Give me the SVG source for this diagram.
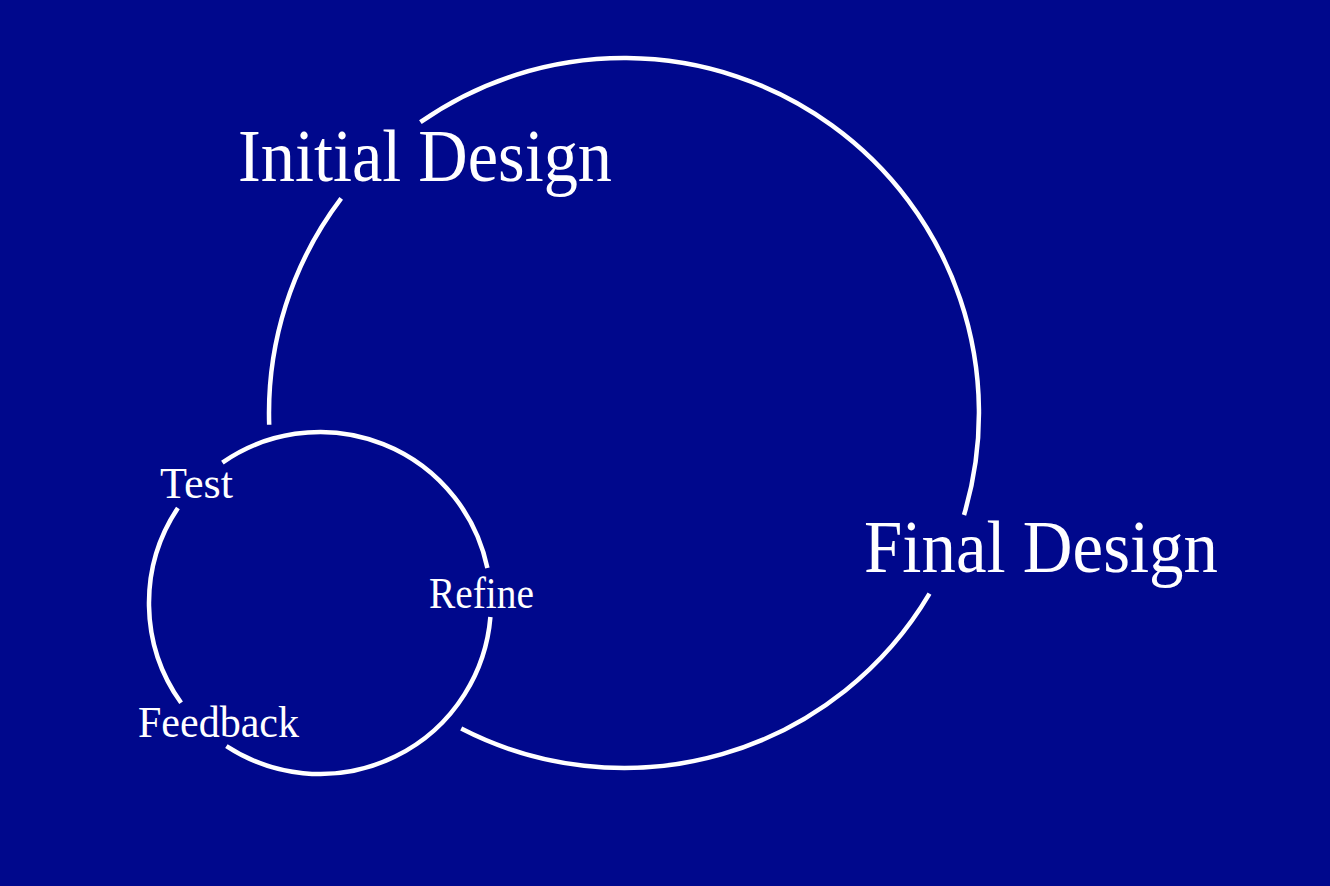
<svg xmlns="http://www.w3.org/2000/svg" width="1330" height="886" viewBox="0 0 1330 886">
  <style>
    .arc { fill: none; stroke: #ffffff; stroke-width: 4.5; stroke-linecap: butt; }
    .big { font-family: "Liberation Serif", "DejaVu Serif", serif; font-size: 74px; fill: #ffffff; }
    .small { font-family: "Liberation Serif", "DejaVu Serif", serif; font-size: 45px; fill: #ffffff; }
  </style>
  <rect x="0" y="0" width="1330" height="886" fill="#00088c"/>
  <g id="connectors">
    <g id="outer-loop">
      <path class="arc" d="M964,515 A355,355 0 0 0 420.4,122.2"/>
      <path class="arc" d="M341.2,198.4 A355,355 0 0 0 269.2,424.8"/>
      <path class="arc" d="M461.2,728.5 A355,355 0 0 0 929.5,593.7"/>
    </g>
    <g id="inner-loop">
      <path class="arc" d="M487.4,568 A171,171 0 0 0 222.4,462.6"/>
      <path class="arc" d="M177.9,507.9 A171,171 0 0 0 181.1,702.8"/>
      <path class="arc" d="M226.4,746.1 A171,171 0 0 0 490.4,617"/>
    </g>
  </g>
  <g id="initial-design">
    <text class="big" x="238" y="181" textLength="374" lengthAdjust="spacingAndGlyphs">Initial Design</text>
  </g>
  <g id="final-design">
    <text class="big" x="864" y="572" textLength="354" lengthAdjust="spacingAndGlyphs">Final Design</text>
  </g>
  <g id="test">
    <text class="small" x="160" y="498" textLength="73" lengthAdjust="spacingAndGlyphs">Test</text>
  </g>
  <g id="refine">
    <text class="small" x="429" y="608" textLength="105" lengthAdjust="spacingAndGlyphs">Refine</text>
  </g>
  <g id="feedback">
    <text class="small" x="138" y="737" textLength="161" lengthAdjust="spacingAndGlyphs">Feedback</text>
  </g>
</svg>
